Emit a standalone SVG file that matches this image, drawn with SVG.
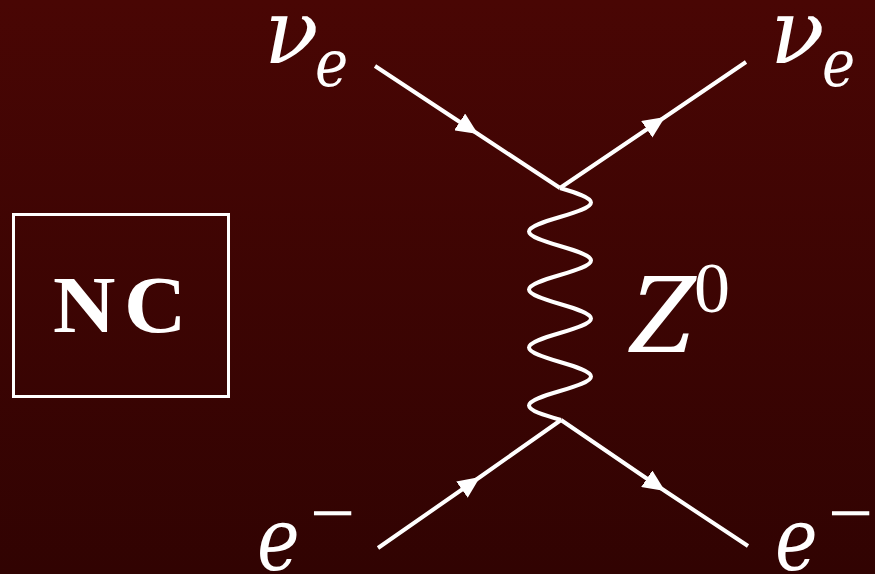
<svg xmlns="http://www.w3.org/2000/svg" width="875" height="574" viewBox="0 0 875 574">
<defs>
<linearGradient id="bg" x1="0" y1="0" x2="0" y2="1">
<stop offset="0" stop-color="#490604"/>
<stop offset="1" stop-color="#310302"/>
</linearGradient>
<marker id="arr" markerUnits="userSpaceOnUse" markerWidth="24" markerHeight="20" refX="22" refY="10" orient="auto" viewBox="0 0 24 20">
<path d="M0,0 L22,10 L0,20 Z" fill="#ffffff"/>
</marker>
<style>
.ln{fill:none;stroke:#ffffff;stroke-width:4;stroke-linecap:butt}
.wv{fill:none;stroke:#ffffff;stroke-width:4}
.mi{font-family:"DejaVu Serif",serif;font-style:italic;fill:#ffffff}
.rm{font-family:"Liberation Serif","Times New Roman",serif;fill:#ffffff}
</style>
</defs>
<rect width="875" height="574" fill="url(#bg)"/>
<g id="connectors">
<path class="ln" d="M375,66 L478,134 L560,188" marker-mid="url(#arr)"/>
<path class="ln" d="M560,188 L665,117 L746,62" marker-mid="url(#arr)"/>
<path class="ln" d="M378,548 L480,477 L561,420" marker-mid="url(#arr)"/>
<path class="ln" d="M561,420 L665,491 L748,546" marker-mid="url(#arr)"/>
<path class="wv" d="M560,188 C575.9,192.73 591,197.25 591,202.5 S575.9,212.27 560,217 S529,226.25 529,231.5 S544.1,241.27 560,246 S591,255.25 591,260.5 S575.9,270.27 560,275 S529,284.25 529,289.5 S544.1,299.27 560,304 S591,313.25 591,318.5 S575.9,328.27 560,333 S529,342.25 529,347.5 S544.1,357.27 560,362 S591,371.25 591,376.5 S575.9,386.27 560,391 S529,400.25 529,405.5 S544.1,415.27 561,420"/>
</g>
<g id="nc-box">
<rect x="13.5" y="214.5" width="215" height="182" fill="none" stroke="#ffffff" stroke-width="3"/>
<text transform="translate(124,332) scale(1.08,1)" text-anchor="middle" font-family="'Liberation Serif',serif" font-weight="bold" font-size="80" letter-spacing="8" fill="#ffffff">NC</text>
</g>
<g id="nu-in">
<text class="mi" x="264" y="63" font-size="90">ν</text>
<text class="mi" transform="translate(315,86) scale(0.85,1)" font-size="66">e</text>
</g>
<g id="nu-out">
<text class="mi" x="770" y="63" font-size="90">ν</text>
<text class="mi" transform="translate(822,86) scale(0.85,1)" font-size="66">e</text>
</g>
<g id="e-in">
<text class="mi" transform="translate(257,570) scale(0.82,1)" font-size="88">e</text>
<text class="rm" x="310" y="540" font-size="80">−</text>
</g>
<g id="e-out">
<text class="mi" transform="translate(775,570) scale(0.82,1)" font-size="88">e</text>
<text class="rm" x="828" y="540" font-size="80">−</text>
</g>
<g id="z-label">
<text font-family="'Noto Serif',serif" font-style="italic" fill="#ffffff" x="630" y="352" font-size="106">Z</text>
<text class="rm" x="694" y="312" font-size="72">0</text>
</g>
</svg>
